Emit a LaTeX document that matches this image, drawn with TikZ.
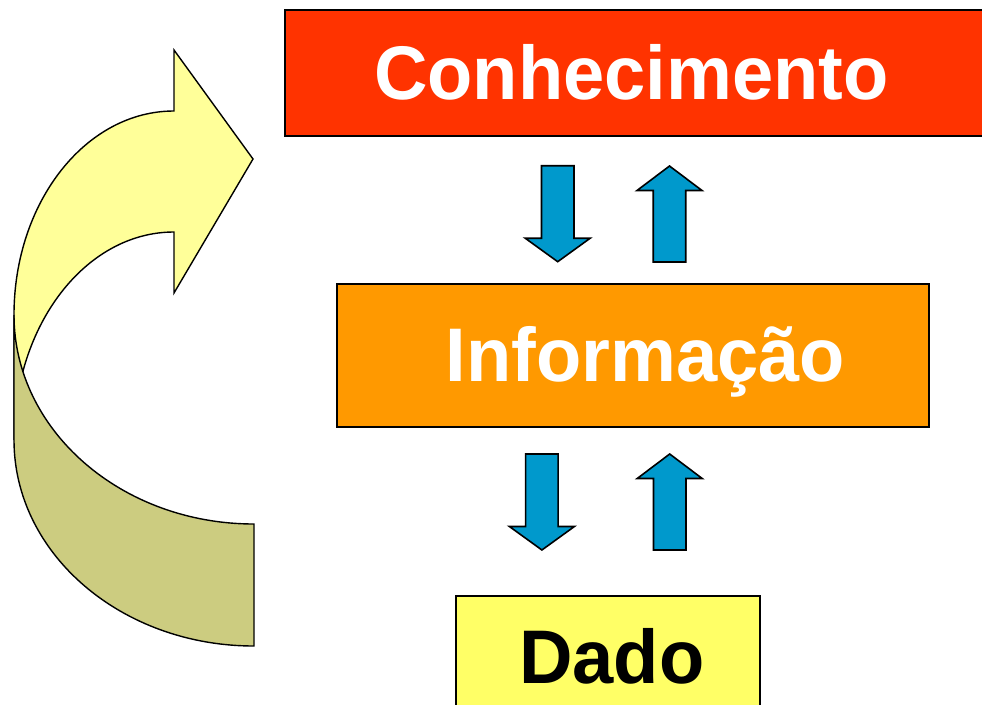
\documentclass[tikz,border=0pt]{standalone}
\usepackage{fontspec}
\setmainfont{Liberation Sans}
\newfontfamily\lblfont[FakeStretch=0.975]{Liberation Sans}
\definecolor{conred}{HTML}{FF3300}
\definecolor{inforange}{HTML}{FF9900}
\definecolor{dadoyellow}{HTML}{FFFF66}
\definecolor{arrowblue}{HTML}{0099CC}
\definecolor{ribbonlight}{HTML}{FFFF99}
\definecolor{ribbondark}{HTML}{CCCC80}
\begin{document}
\begin{tikzpicture}[x=1pt,y=-1pt,
  box/.style={draw=black,line width=2pt,rectangle,inner sep=0pt,outer sep=0pt},
  lbl/.style={inner sep=0pt,anchor=base,font=\lblfont\fontsize{76}{80}\selectfont\bfseries},
  blockarrow/.style={draw=black,line width=1.6pt,fill=arrowblue,line join=miter},
  ribbon/.style={draw=black,line width=1.4pt,line join=miter},
  pics/downarrow/.style={code={
    \path[blockarrow] (-16.25,0) -- (16.25,0) -- (16.25,72.5) -- (32.5,72.5) -- (0,96)
      -- (-32.5,72.5) -- (-16.25,72.5) -- cycle;}},
  pics/uparrow/.style={code={
    \path[blockarrow] (-16.25,0) -- (16.25,0) -- (16.25,-71.5) -- (32.5,-71.5) -- (0,-96)
      -- (-32.5,-71.5) -- (-16.25,-71.5) -- cycle;}}
]
\useasboundingbox (0,0) rectangle (982,704);

% boxes
\node[box,fill=conred,minimum width=699pt,minimum height=125.5pt] (con) at (634.5,73.2) {};
\node[lbl,text=white] (contxt) at (631.5,99.3) {Conhecimento};

\node[box,fill=inforange,minimum width=592pt,minimum height=143pt] (inf) at (633,355.5) {};
\node[lbl,text=white] (inftxt) at (645.5,381.7) {Informação};

\node[box,fill=dadoyellow,minimum width=304pt,minimum height=130pt] (dado) at (608,660.5) {};
\node[lbl,text=black] (dadotxt) at (611.7,683.3) {Dado};

% block arrows
\pic at (557.7,165.7) {downarrow};
\pic at (669.5,262) {uparrow};
\pic at (541.9,454) {downarrow};
\pic at (669.7,550) {uparrow};

% curved ribbon arrow
\path[ribbon,fill=ribbonlight] (174,111) .. controls (85.6,111) and (14,202.3) .. (14,315)
  -- (14,440) .. controls (14,325.1) and (85.6,232) .. (174,232)
  -- (174,293) -- (253,159) -- (174,50) -- cycle;
\path[ribbon,fill=ribbondark] (14,315) -- (14,440)
  .. controls (14,553.8) and (121.4,646) .. (254,646)
  -- (254,524) .. controls (121.4,524) and (14,430.4) .. (14,315) -- cycle;
\end{tikzpicture}
\end{document}
